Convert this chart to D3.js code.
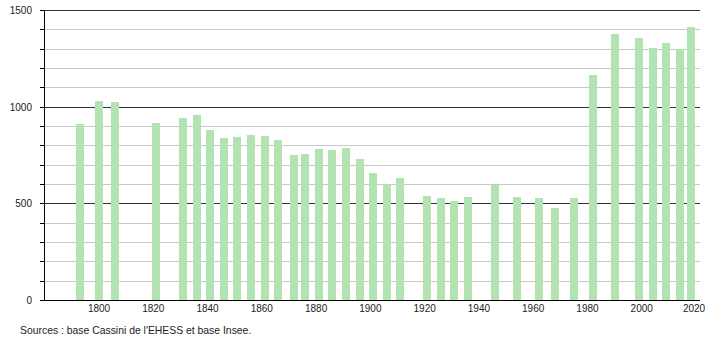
<!DOCTYPE html>
<html>
<head>
<meta charset="utf-8">
<script src="https://cdn.jsdelivr.net/npm/d3@7"></script>
<style>
  body { margin: 0; background: #fff; }
  text { font-family: "Liberation Sans", Arial, sans-serif; font-size: 10px; fill: #222; }
  .src { font-size: 10.4px; }
</style>
</head>
<body>
<svg></svg>
<script>
//DATA
var years = [1793, 1800, 1806, 1821, 1831, 1836, 1841, 1846, 1851, 1856, 1861, 1866,
     1872, 1876, 1881, 1886, 1891, 1896, 1901, 1906, 1911, 1921, 1926, 1931, 1936,
     1946, 1954, 1962, 1968, 1975, 1982, 1990, 1999, 2004, 2009, 2014, 2018];
var population = [910, 1029, 1024, 915, 941, 957, 879, 838, 843, 853, 848, 828,
     750, 755, 781, 776, 786, 729, 657, 600, 631, 538, 528, 512, 533,
     595, 533, 528, 476, 528, 1164, 1376, 1355, 1303, 1329, 1298, 1412];
var xTicks = [1800, 1820, 1840, 1860, 1880, 1900, 1920, 1940, 1960, 1980, 2000, 2020];
var yMajor = [0, 500, 1000, 1500];
var yMinor = d3.range(100, 1500, 100).filter(d => d % 500 !== 0);
var source = "Sources : base Cassini de l'EHESS et base Insee.";

//SET UP THE CANVAS
var w = 710;
var h = 340;
var mLeft = 44, mRight = 700, mTop = 10, mBottom = 300;
var barW = 8;

var svg = d3.select("svg")
     .attr("width", w)
     .attr("height", h);

var xScale = d3.scaleLinear()
     .domain([1779.73, 2021.47])
     .range([mLeft, mRight]);
var yScale = d3.scaleLinear()
     .domain([0, 1500])
     .range([mBottom, mTop]);

//GRID
svg.selectAll(".minor")
     .data(yMinor)
     .enter().append("line")
     .attr("x1", mLeft - 4).attr("x2", mRight)
     .attr("y1", d => Math.round(yScale(d)) + 0.5)
     .attr("y2", d => Math.round(yScale(d)) + 0.5)
     .attr("stroke", "#c8c8c8");

svg.selectAll(".major")
     .data(yMajor)
     .enter().append("line")
     .attr("x1", mLeft - 4).attr("x2", mRight)
     .attr("y1", d => Math.round(yScale(d)) + 0.5)
     .attr("y2", d => Math.round(yScale(d)) + 0.5)
     .attr("stroke", "#333");

//BARS
svg.selectAll(".bar")
     .data(years)
     .enter().append("rect")
     .attr("x", d => Math.round(xScale(d) - barW / 2))
     .attr("width", barW)
     .attr("y", (d, i) => Math.round(yScale(population[i])))
     .attr("height", (d, i) => mBottom - Math.round(yScale(population[i])))
     .attr("fill", "#b3e3b3");

//AXES
svg.append("line")
     .attr("x1", mLeft + 0.5).attr("x2", mLeft + 0.5)
     .attr("y1", mTop).attr("y2", mBottom + 0.5)
     .attr("stroke", "#000");
svg.append("line")
     .attr("x1", mLeft - 4).attr("x2", mRight)
     .attr("y1", mBottom + 0.5).attr("y2", mBottom + 0.5)
     .attr("stroke", "#000");

// y ticks: small marks on the left of the axis
svg.selectAll(".ytick")
     .data(yMinor.concat(yMajor))
     .enter().append("line")
     .attr("x1", mLeft - 4).attr("x2", mLeft)
     .attr("y1", d => Math.round(yScale(d)) + 0.5)
     .attr("y2", d => Math.round(yScale(d)) + 0.5)
     .attr("stroke", "#000");

svg.selectAll(".ylabel")
     .data(yMajor)
     .enter().append("text")
     .attr("x", 32)
     .attr("y", d => yScale(d) + 4)
     .attr("text-anchor", "end")
     .text(d => d);

svg.selectAll(".xlabel")
     .data(xTicks)
     .enter().append("text")
     .attr("x", d => Math.min(xScale(d), 694))
     .attr("y", mBottom + 12)
     .attr("text-anchor", "middle")
     .text(d => d);

svg.append("text")
     .attr("class", "src")
     .attr("x", 20)
     .attr("y", 334)
     .text(source);
</script>
</body>
</html>
